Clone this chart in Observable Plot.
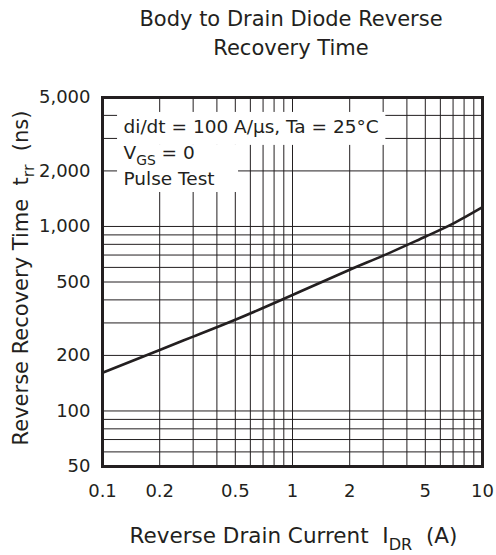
<!DOCTYPE html>
<html>
<head>
<meta charset="utf-8">
<script src="https://cdn.jsdelivr.net/npm/d3@7"></script>
<script src="https://cdn.jsdelivr.net/npm/@observablehq/plot@0.6"></script>
<style>
  html, body { margin: 0; padding: 0; background: #fff; }
  svg text { white-space: pre; }
</style>
</head>
<body>
<div id="chart"></div>
<script>
// ---- data ----
const currentA = [0.1, 0.2, 0.3, 0.5, 1, 2, 3, 5, 7, 10];
const trrNs    = [161, 214, 253, 312, 425, 583, 695, 880, 1035, 1272];

const xTickValues = [0.1, 0.2, 0.5, 1, 2, 5, 10];
const xTickLabels = ["0.1", "0.2", "0.5", "1", "2", "5", "10"];
const yTickValues = [50, 100, 200, 500, 1000, 2000, 5000];
const yTickLabels = ["50", "100", "200", "500", "1,000", "2,000", "5,000"];

const xGridValues = [0.1, 0.2, 0.3, 0.4, 0.5, 0.6, 0.7, 0.8, 0.9, 1, 2, 3, 4, 5, 6, 7, 8, 9, 10];
const yGridValues = [50, 60, 70, 80, 90, 100, 200, 300, 400, 500, 600, 700, 800, 900, 1000, 2000, 3000, 4000, 5000];

const titleLines = ["Body to Drain Diode Reverse", "Recovery Time"];
const annotationLines = ["di/dt = 100 A/µs, Ta = 25°C", "V_{GS} = 0", "Pulse Test"];
const xLabel = "Reverse Drain Current  I_{DR}  (A)";
const yLabel = "Reverse Recovery Time  t_{rr}  (ns)";

// ---- build ----
const ink = "#231f20";
const points = currentA.map((x, i) => ({x, y: trrNs[i]}));
const xLabelMap = new Map(xTickValues.map((v, i) => [v, xTickLabels[i]]));
const yLabelMap = new Map(yTickValues.map((v, i) => [v, yTickLabels[i]]));

const chart = Plot.plot({
  width: 496,
  height: 555,
  marginLeft: 102,
  marginRight: 14,
  marginTop: 97,
  marginBottom: 89,
  style: {fontFamily: "'DejaVu Sans', sans-serif", fontSize: "18px", color: ink, background: "#fff"},
  x: {type: "log", domain: [0.1, 10], label: null},
  y: {type: "log", domain: [50, 5000], label: null},
  marks: [
    Plot.ruleX(xGridValues, {stroke: ink, strokeWidth: 1}),
    Plot.ruleY(yGridValues, {stroke: ink, strokeWidth: 1}),
    // white backgrounds behind the condition note
    Plot.rect([0], {x1: 0.12, x2: 3.1, y1: 4150, y2: 2750, fill: "#fff"}),
    Plot.rect([0], {x1: 0.12, x2: 0.52, y1: 2750, y2: 1528, fill: "#fff"}),
    Plot.axisX({ticks: xTickValues, tickFormat: d => xLabelMap.get(d), tickSize: 0, tickPadding: 18, label: null, fill: ink}),
    Plot.axisY({ticks: yTickValues, tickFormat: d => yLabelMap.get(d), tickSize: 0, tickPadding: 12, label: null, fill: ink}),
    Plot.line(points, {x: "x", y: "y", stroke: ink, strokeWidth: 2.6, curve: "natural"}),
    Plot.frame({stroke: ink, strokeWidth: 3}),
    Plot.text([annotationLines.join("\n")], {
      frameAnchor: "top-left", textAnchor: "start", lineAnchor: "bottom",
      fontSize: 18.5, lineHeight: 26 / 18.5, dx: 21, dy: 87.5, fill: ink
    }),
    Plot.text([titleLines.join("\n")], {
      frameAnchor: "top", textAnchor: "middle", lineAnchor: "bottom",
      fontSize: 21, lineHeight: 29 / 21, dx: -1.5, dy: -43, fill: ink
    }),
    Plot.text([yLabel], {
      frameAnchor: "left", textAnchor: "middle", lineAnchor: "bottom",
      rotate: -90, fontSize: 21, dx: -75, dy: -4, fill: ink
    }),
    Plot.text([xLabel], {
      frameAnchor: "bottom", textAnchor: "middle", lineAnchor: "bottom",
      fontSize: 21.5, dx: 1, dy: 76, fill: ink
    })
  ]
});

document.getElementById("chart").appendChild(chart);

// ---- turn _{...} into real subscripts ----
const subShift = {GS: 0.33, rr: 0.3, DR: 0.33};
const NS = "http://www.w3.org/2000/svg";
chart.querySelectorAll("text, tspan").forEach(el => {
  if (el.childNodes.length !== 1 || el.firstChild.nodeType !== 3) return;
  const s = el.textContent;
  if (!s.includes("_{")) return;
  const fs = parseFloat(getComputedStyle(el).fontSize) || 18;
  el.textContent = "";
  const re = /_\{([^}]*)\}/g;
  let last = 0, m;
  while ((m = re.exec(s))) {
    if (m.index > last) el.appendChild(document.createTextNode(s.slice(last, m.index)));
    const shift = (subShift[m[1]] || 0.3) * fs;
    const sub = document.createElementNS(NS, "tspan");
    sub.setAttribute("font-size", (fs * 0.75) + "px");
    sub.setAttribute("dy", shift);
    sub.textContent = m[1];
    el.appendChild(sub);
    last = re.lastIndex;
    const nextIdx = s.indexOf("_{", last);
    const restEnd = nextIdx === -1 ? s.length : nextIdx;
    const back = document.createElementNS(NS, "tspan");
    back.setAttribute("dy", -shift);
    back.textContent = s.slice(last, restEnd) || "\u200b";
    el.appendChild(back);
    last = restEnd;
    re.lastIndex = restEnd;
  }
  if (last < s.length) el.appendChild(document.createTextNode(s.slice(last)));
});
</script>
</body>
</html>
